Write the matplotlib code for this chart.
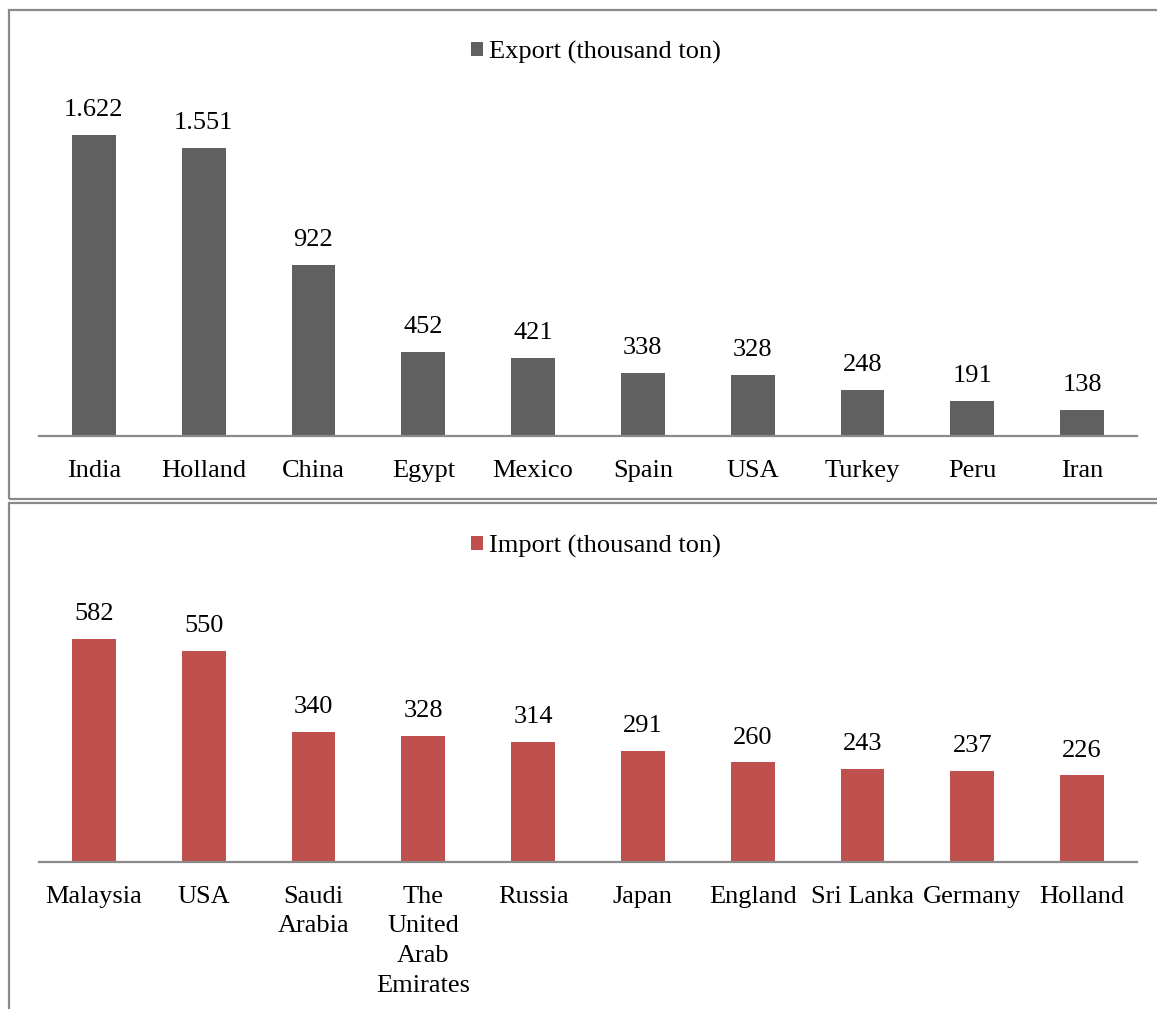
import matplotlib
matplotlib.use("Agg")
import matplotlib.pyplot as plt
from matplotlib.patches import Rectangle

export_countries = ["India", "Holland", "China", "Egypt", "Mexico", "Spain", "USA", "Turkey", "Peru", "Iran"]
export_values = [1622, 1551, 922, 452, 421, 338, 328, 248, 191, 138]
export_labels = ["1.622", "1.551", "922", "452", "421", "338", "328", "248", "191", "138"]

import_countries = ["Malaysia", "USA", "Saudi\nArabia", "The\nUnited\nArab\nEmirates", "Russia",
                    "Japan", "England", "Sri Lanka", "Germany", "Holland"]
import_values = [582, 550, 340, 328, 314, 291, 260, 243, 237, 226]
import_labels = [str(v) for v in import_values]

plt.rcParams['font.family'] = ['Liberation Serif', 'DejaVu Serif']
FS = 19
W, H = 1157, 1009
fig = plt.figure(figsize=(W / 100, H / 100), dpi=100)

def fx(px):
    return px / W

def fy(py):
    return 1 - py / H

# panel borders
border = "#8a8a8a"
fig.patches.append(Rectangle((fx(9), fy(499)), fx(1160) - fx(9), fy(10) - fy(499),
                             transform=fig.transFigure, fill=False, edgecolor=border, lw=1.6))
fig.patches.append(Rectangle((fx(9), fy(1015)), fx(1160) - fx(9), fy(503) - fy(1015),
                             transform=fig.transFigure, fill=False, edgecolor=border, lw=1.6))

def panel(base_py, ymax, scale, cats, vals, labs, color, name, leg_py):
    height_px = ymax * scale
    ax = fig.add_axes([fx(39), fy(base_py), fx(1137) - fx(39), height_px / H])
    x = list(range(len(cats)))
    bars = ax.bar(x, vals, width=0.4, color=color, label=name)
    ax.set_xlim(-0.5, len(cats) - 0.5)
    ax.set_ylim(0, ymax)
    ax.set_xticks(x)
    ax.set_xticklabels(cats, fontsize=FS, linespacing=1.45)
    ax.tick_params(axis='x', length=0, pad=17)
    ax.set_yticks([])
    for s in ["top", "left", "right"]:
        ax.spines[s].set_visible(False)
    ax.spines["bottom"].set_color("#8a8a8a")
    ax.spines["bottom"].set_linewidth(1.6)
    ax.patch.set_alpha(0)
    ax.bar_label(bars, labels=labs, padding=10, fontsize=FS)
    ax.legend(loc="center", bbox_to_anchor=(fx(596), fy(leg_py)), bbox_transform=fig.transFigure,
              frameon=False, fontsize=FS, handlelength=0.45, handleheight=0.45, handletextpad=0.25)
    return ax

panel(436, 1800, 0.1856, export_countries, export_values, export_labels, "#606060",
      "Export (thousand ton)", 52)
panel(862, 700, 0.383, import_countries, import_values, import_labels, "#C0504D",
      "Import (thousand ton)", 546)

fig.savefig("out.png", dpi=100)
